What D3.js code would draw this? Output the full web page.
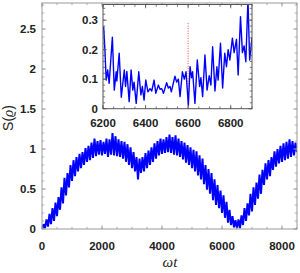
<!DOCTYPE html>
<html>
<head>
<meta charset="utf-8">
<script src="https://cdn.jsdelivr.net/npm/d3@7"></script>
<style>
  body { margin: 0; background: #fff; }
  svg { display: block; }
</style>
</head>
<body>
<script>
const mainStep = 50;
const mainS = [
  0.00,0.06,0.01,0.12,0.03,0.19,0.06,0.26,0.10,0.33,
  0.16,0.40,0.24,0.52,0.32,0.64,0.42,0.70,0.52,0.80,
  0.60,0.86,0.66,0.90,0.72,0.94,0.76,0.96,0.80,1.01,
  0.84,1.04,0.86,1.08,0.89,1.13,0.91,1.10,0.93,1.11,
  0.92,1.09,0.94,1.13,0.90,1.12,0.93,1.20,0.92,1.16,
  0.91,1.12,0.90,1.10,0.88,1.09,0.84,1.06,0.80,1.02,
  0.76,0.96,0.72,0.90,0.62,0.88,0.70,0.90,0.72,0.95,
  0.76,0.98,0.80,1.02,0.84,1.07,0.88,1.10,0.92,1.13,
  0.94,1.12,0.95,1.15,0.96,1.18,0.95,1.15,0.93,1.17,
  0.92,1.13,0.90,1.10,0.87,1.08,0.83,1.05,0.80,1.02,
  0.76,0.99,0.72,0.97,0.67,0.92,0.62,0.88,0.56,0.80,
  0.49,0.75,0.44,0.70,0.36,0.62,0.30,0.55,0.26,0.48,
  0.20,0.42,0.14,0.34,0.08,0.24,0.05,0.16,0.02,0.11,
  0.01,0.12,0.01,0.17,0.05,0.26,0.10,0.32,0.17,0.44,
  0.22,0.52,0.30,0.58,0.38,0.68,0.44,0.74,0.55,0.82,
  0.62,0.86,0.66,0.90,0.74,0.97,0.78,1.00,0.82,1.04,
  0.84,1.07,0.86,1.09,0.88,1.12,0.90,1.10,0.92,1.08,
  0.96
];

// inset trace, 6200 <= wt <= 6900
const insetT = [
  6203,6209,6215,6222,6229,6244,6253,6262,6265,6276,
  6286,6300,6306,6312,6323,6332,6340,6346,6356,6368,
  6378,6385,6393,6401,6411,6421,6429,6440,6448,6460,
  6468,6476,6484,6499,6507,6515,6521,6538,6546,6554,
  6562,6573,6582,6590,6601,6609,6616,6621,6632,6643,
  6654,6660,6668,6679,6689,6699,6707,6715,6726,6735,
  6741,6752,6762,6772,6780,6788,6796,6808,6816,6827,
  6835,6846,6855,6863,6871,6881,6889,6900
];
const insetS = [
  0.278,0.200,0.097,0.131,0.086,0.242,0.063,0.125,0.094,0.188,
  0.039,0.131,0.075,0.126,0.024,0.131,0.063,0.090,0.018,0.125,
  0.047,0.075,0.029,0.097,0.057,0.068,0.060,0.097,0.052,0.080,
  0.066,0.068,0.052,0.088,0.070,0.075,0.057,0.110,0.090,0.100,
  0.041,0.125,0.100,0.125,0.012,0.142,0.105,0.125,0.018,0.165,
  0.075,0.105,0.041,0.182,0.063,0.112,0.080,0.210,0.060,0.142,
  0.097,0.222,0.070,0.188,0.142,0.200,0.165,0.239,0.190,0.235,
  0.114,0.312,0.190,0.213,0.159,0.370,0.165,0.240
];
const markerT = 6600;

const mainXTicks = [0, 2000, 4000, 6000, 8000];
const mainYTicks = [0, 0.5, 1, 1.5, 2, 2.5];
const insetXTicks = [6200, 6400, 6600, 6800];
const insetYTicks = [0, 0.1, 0.2, 0.3];

const width = 300, height = 273;
const blue = "#0000ff";

const svg = d3.select("body").append("svg")
    .attr("width", width)
    .attr("height", height);

const mainData = mainS.map((s, i) => ({t: i * mainStep, s}));
const insetData = insetT.map((t, i) => ({t, s: insetS[i]}));

function frame(g, x, y, o) {
  const [x0, x1] = x.range(), [y0, y1] = y.range();
  const mk = (vals, len, axis) => {
    vals.forEach(v => {
      if (axis === "x") {
        const px = x(v);
        g.append("line").attr("x1", px).attr("x2", px).attr("y1", y0).attr("y2", y0 - len);
        g.append("line").attr("x1", px).attr("x2", px).attr("y1", y1).attr("y2", y1 + len);
      } else {
        const py = y(v);
        g.append("line").attr("y1", py).attr("y2", py).attr("x1", x0).attr("x2", x0 + len);
        g.append("line").attr("y1", py).attr("y2", py).attr("x1", x1).attr("x2", x1 - len);
      }
    });
  };
  g.attr("stroke", o.color).attr("stroke-width", 0.8);
  mk(d3.range(x.domain()[0], x.domain()[1] + 1e-9, o.xMinor), 2.2, "x");
  mk(o.xTicks, 3.8, "x");
  mk(d3.range(y.domain()[0], y.domain()[1] + 1e-9, o.yMinor), 2.2, "y");
  mk(o.yTicks, 3.8, "y");
  g.append("rect")
      .attr("x", x0).attr("y", y1)
      .attr("width", x1 - x0).attr("height", y0 - y1)
      .attr("fill", "none")
      .attr("stroke-width", 1);
}

function labels(x, y, o) {
  const g = svg.append("g")
      .attr("font-family", "Liberation Sans, Arial, sans-serif")
      .attr("font-weight", "bold")
      .attr("font-size", 11.5)
      .attr("fill", "#222");
  g.selectAll(".xl").data(o.xTicks).enter().append("text")
      .attr("x", d => x(d))
      .attr("y", y.range()[0] + o.xGap)
      .attr("text-anchor", "middle")
      .text(d => d);
  g.selectAll(".yl").data(o.yTicks).enter().append("text")
      .attr("x", x.range()[0] - o.yGap)
      .attr("y", d => y(d) + 4)
      .attr("text-anchor", "end")
      .text(d => d);
}

// main panel
const x = d3.scaleLinear().domain([0, 8500]).range([42, 297]);
const y = d3.scaleLinear().domain([0, 2.825]).range([229, 3]);

svg.append("defs").append("clipPath").attr("id", "mainclip")
  .append("rect").attr("x", 42).attr("y", 3).attr("width", 255).attr("height", 226);

svg.append("path")
    .datum(mainData)
    .attr("clip-path", "url(#mainclip)")
    .attr("fill", "none")
    .attr("stroke", blue)
    .attr("stroke-width", 2)
    .attr("stroke-linejoin", "bevel")
    .attr("d", d3.line().x(d => x(d.t)).y(d => y(d.s)));

frame(svg.append("g"), x, y, {color: "#999", xMinor: 500, yMinor: 0.1, xTicks: mainXTicks, yTicks: mainYTicks});
labels(x, y, {xTicks: mainXTicks, yTicks: mainYTicks, xGap: 21, yGap: 6});

// inset panel
const ix = d3.scaleLinear().domain([6200, 6900]).range([103, 252]);
const iy = d3.scaleLinear().domain([0, 0.353]).range([108.7, 4.5]);

svg.append("rect")
    .attr("x", 103).attr("y", 4.5)
    .attr("width", 149).attr("height", 104.2)
    .attr("fill", "#fff");

svg.select("defs").append("clipPath").attr("id", "insetclip")
  .append("rect").attr("x", 103).attr("y", 4.5).attr("width", 149).attr("height", 104.2);

svg.append("line")
    .attr("x1", ix(markerT)).attr("x2", ix(markerT))
    .attr("y1", iy(0.29)).attr("y2", iy(0))
    .attr("stroke", "#ff3030")
    .attr("stroke-width", 0.9)
    .attr("stroke-dasharray", "1,1.5");

svg.append("path")
    .datum(insetData)
    .attr("clip-path", "url(#insetclip)")
    .attr("fill", "none")
    .attr("stroke", blue)
    .attr("stroke-width", 1.4)
    .attr("stroke-linejoin", "round")
    .attr("d", d3.line().x(d => ix(d.t)).y(d => iy(d.s)));

frame(svg.append("g"), ix, iy, {color: "#555", xMinor: 50, yMinor: 0.02, xTicks: insetXTicks, yTicks: insetYTicks});
labels(ix, iy, {xTicks: insetXTicks, yTicks: insetYTicks, xGap: 18, yGap: 5});

// axis titles
svg.append("text")
    .attr("transform", "translate(13,118) rotate(-90)")
    .attr("text-anchor", "middle")
    .attr("font-family", "Liberation Sans, Arial, sans-serif")
    .attr("font-size", 14)
    .attr("fill", "#222")
    .html('S(<tspan font-family="Liberation Serif, serif" font-style="italic">ϱ</tspan>)');

svg.append("text")
    .attr("x", 170)
    .attr("y", 267)
    .attr("text-anchor", "middle")
    .attr("font-family", "Liberation Serif, serif")
    .attr("font-style", "italic")
    .attr("font-size", 15)
    .attr("fill", "#222")
    .text("ωt");
</script>
</body>
</html>
